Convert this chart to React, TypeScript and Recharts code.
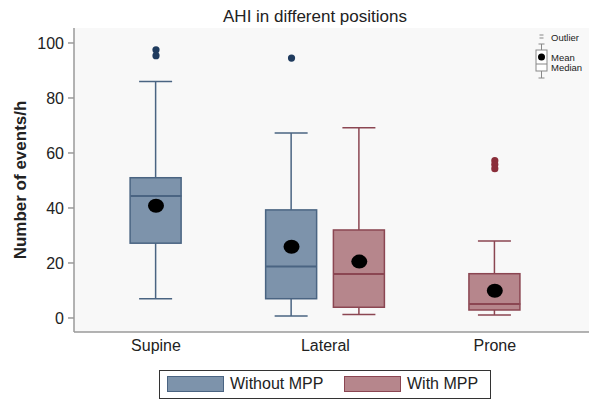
import { ComposedChart, Bar, Scatter, XAxis, YAxis, CartesianGrid } from 'recharts'

// positions on the x axis: 6 slots (position x group), only 4 are used
const categories = ['Supine', 'Lateral', 'Prone']
const categoryTicks = [0, 2.5, 5]
const groups = ['Without MPP', 'With MPP']

const boxSlot = [0, 2, 3, 5]
const boxGroup = [0, 0, 1, 1]
const whiskerLow = [7, 0.7, 1.3, 1.1]
const q1 = [27.2, 7, 3.9, 2.9]
const median = [44.4, 18.7, 16, 5.1]
const q3 = [51, 39.3, 32, 16.1]
const whiskerHigh = [86, 67.3, 69.2, 28]
const means = [40.8, 25.9, 20.5, 9.9]
const outliers = [[97.5, 95.4], [94.5], [], [57.2, 55.8, 54.3]]

const yTicks = [0, 20, 40, 60, 80, 100]

const FILL = ['#7d93ab', '#b6868c']
const STROKE = ['#4a6482', '#8b4652']
const OUTLIER = ['#1f3b5e', '#8a2e3a']
const AXIS = '#9a9a9a'
const FONT = "'Liberation Sans', Arial, sans-serif"

const X_DOMAIN: [number, number] = [-1.21, 6.39]
const Y_DOMAIN: [number, number] = [-5.1, 105.45]
const BOX_W = 51
const CAP_W = 33

const boxData = boxSlot.map((x, i) => ({
  x,
  g: boxGroup[i],
  whisker: [whiskerLow[i], whiskerHigh[i]],
  box: [q1[i], q3[i]],
}))
const medianData = boxSlot.map((x, i) => ({ x, y: median[i], g: boxGroup[i] }))
const meanData = boxSlot.map((x, i) => ({ x, y: means[i], g: boxGroup[i] }))
const outlierData = boxSlot.flatMap((x, i) => outliers[i].map((y) => ({ x, y, g: boxGroup[i] })))

const WhiskerShape = (p: any) => {
  if (p.x == null || p.height == null) return null
  const g = p.payload.g
  const cx = p.x + p.width / 2
  const top = p.y
  const bottom = p.y + p.height
  return (
    <g stroke={STROKE[g]} strokeWidth={1.5}>
      <line x1={cx} x2={cx} y1={top} y2={bottom} />
      <line x1={p.x} x2={p.x + p.width} y1={top} y2={top} />
      <line x1={p.x} x2={p.x + p.width} y1={bottom} y2={bottom} />
    </g>
  )
}

const BoxShape = (p: any) => {
  if (p.x == null || p.height == null) return null
  const g = p.payload.g
  return (
    <rect x={p.x} y={p.y} width={p.width} height={p.height} fill={FILL[g]} stroke={STROKE[g]} strokeWidth={1.5} />
  )
}

const MedianShape = (p: any) => (
  <line x1={p.cx - BOX_W / 2} x2={p.cx + BOX_W / 2} y1={p.cy} y2={p.cy} stroke={STROKE[p.payload.g]} strokeWidth={2} />
)

const MeanShape = (p: any) => <ellipse cx={p.cx} cy={p.cy} rx={8} ry={7} fill="#000" />

const OutlierShape = (p: any) => <circle cx={p.cx} cy={p.cy} r={3.6} fill={OUTLIER[p.payload.g]} />

export default function App() {
  return (
    <div style={{ position: 'absolute', left: 0, top: 0, width: 589, height: 399, fontFamily: FONT, background: '#fff' }}>
      <ComposedChart width={589} height={399} data={boxData} margin={{ top: 28, right: 0, bottom: 0, left: 0 }}>
        <CartesianGrid horizontal={false} vertical={false} fill="#f8f8f8" xAxisId="main" />
        <XAxis
          xAxisId="main"
          dataKey="x"
          type="number"
          domain={X_DOMAIN}
          allowDataOverflow
          ticks={categoryTicks}
          tickFormatter={(v) => categories[categoryTicks.indexOf(v)] ?? ''}
          height={67}
          tickLine={false}
          tickSize={0}
          tickMargin={8}
          axisLine={{ stroke: AXIS, strokeWidth: 1.5 }}
          tick={{ fill: '#222', fontSize: 16 }}
          interval={0}
        />
        <XAxis xAxisId="w" dataKey="x" type="number" domain={X_DOMAIN} allowDataOverflow hide />
        <YAxis
          type="number"
          domain={Y_DOMAIN}
          allowDataOverflow
          ticks={yTicks}
          width={74}
          tickSize={6}
          tickMargin={4}
          interval={0}
          axisLine={{ stroke: AXIS, strokeWidth: 1.5 }}
          tickLine={{ stroke: AXIS, strokeWidth: 1.5 }}
          tick={{ fill: '#222', fontSize: 16 }}
        />
        <Bar xAxisId="w" dataKey="whisker" barSize={CAP_W} shape={WhiskerShape} isAnimationActive={false} />
        <Bar xAxisId="main" dataKey="box" barSize={BOX_W} shape={BoxShape} isAnimationActive={false} />
        <Scatter xAxisId="main" data={medianData} dataKey="y" shape={MedianShape} isAnimationActive={false} />
        <Scatter xAxisId="main" data={meanData} dataKey="y" shape={MeanShape} isAnimationActive={false} />
        <Scatter xAxisId="main" data={outlierData} dataKey="y" shape={OutlierShape} isAnimationActive={false} />
      </ComposedChart>

      <svg width={589} height={399} style={{ position: 'absolute', left: 0, top: 0, pointerEvents: 'none' }}>
        <text x={315} y={22} textAnchor="middle" fontSize={17} fill="#222">
          AHI in different positions
        </text>
        <text
          x={20}
          y={180}
          transform="rotate(-90 20 180)"
          textAnchor="middle"
          dominantBaseline="central"
          fontSize={17}
          fontWeight="bold"
          fill="#222"
        >
          Number of events/h
        </text>
        {/* key glyph, top right */}
        <g stroke="#888" strokeWidth={1} fill="none">
          <line x1={539.5} x2={543.5} y1={35} y2={35} />
          <line x1={539.5} x2={543.5} y1={38} y2={38} />
          <line x1={538.5} x2={544.5} y1={44} y2={44} />
          <line x1={541.5} x2={541.5} y1={44} y2={50} />
          <rect x={536} y={50} width={11} height={21} fill="#fff" />
          <line x1={536} x2={547} y1={64} y2={64} />
          <line x1={541.5} x2={541.5} y1={71} y2={78} />
          <line x1={538.5} x2={544.5} y1={78} y2={78} />
        </g>
        <circle cx={541.5} cy={57} r={3.5} fill="#000" />
        <g fontSize={9.5} fill="#222" dominantBaseline="central">
          <text x={551} y={37}>Outlier</text>
          <text x={551} y={57}>Mean</text>
          <text x={551} y={67}>Median</text>
        </g>
      </svg>

      <div
        style={{
          position: 'absolute',
          left: 159,
          top: 370,
          width: 330,
          height: 27,
          border: '1px solid #333',
          fontSize: 16,
          color: '#222',
        }}
      >
        {groups.map((name, i) => (
          <div key={name} style={{ position: 'absolute', left: i === 0 ? 7 : 184, top: 5, display: 'flex', alignItems: 'center' }}>
            <span
              style={{
                display: 'inline-block',
                width: 55,
                height: 14,
                background: FILL[i],
                border: `1px solid ${STROKE[i]}`,
                marginRight: 6,
              }}
            />
            <span style={{ lineHeight: '16px' }}>{name}</span>
          </div>
        ))}
      </div>
    </div>
  )
}
